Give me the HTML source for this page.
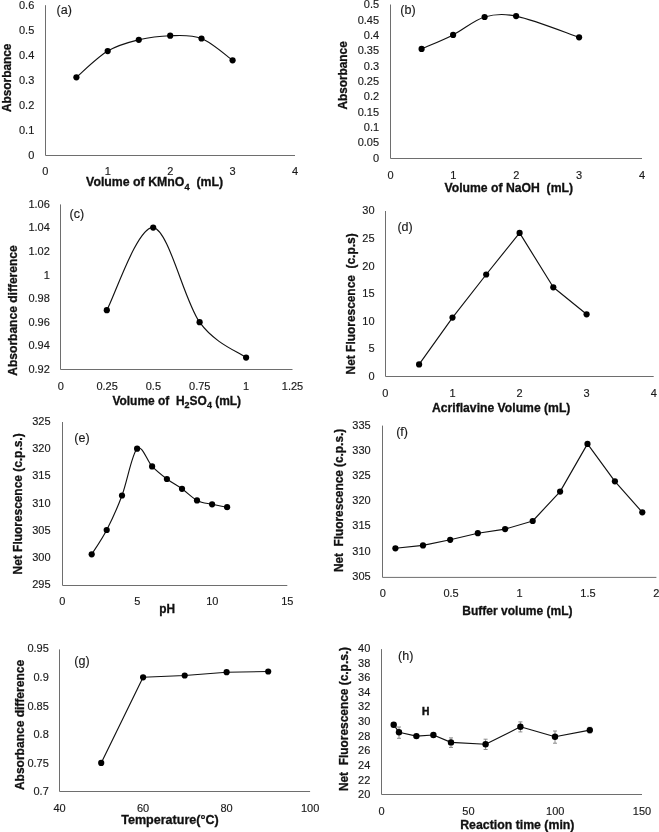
<!DOCTYPE html>
<html><head><meta charset="utf-8"><style>
html,body{margin:0;padding:0;background:#fff;}
svg{display:block;filter:grayscale(1);}
.t{white-space:pre;font-family:"Liberation Sans", sans-serif;font-size:11px;fill:#1a1a1a;stroke:#1a1a1a;stroke-width:0.15px;}
.l{white-space:pre;font-family:"Liberation Sans", sans-serif;font-size:12.5px;fill:#1a1a1a;stroke:#1a1a1a;stroke-width:0.15px;}
.b{white-space:pre;font-family:"Liberation Sans", sans-serif;font-size:12px;font-weight:bold;fill:#111;stroke:#111;stroke-width:0.3px;}
</style></head><body>
<svg width="659" height="832" viewBox="0 0 659 832">
<rect width="659" height="832" fill="#fff"/>
<path d="M45.5,5.2 V155.5 H295.0" fill="none" stroke="#6e6e6e" stroke-width="1"/>
<text x="34.3" y="158.7" text-anchor="end" class="t">0</text>
<text x="34.3" y="133.8" text-anchor="end" class="t">0.1</text>
<text x="34.3" y="108.8" text-anchor="end" class="t">0.2</text>
<text x="34.3" y="83.9" text-anchor="end" class="t">0.3</text>
<text x="34.3" y="59.0" text-anchor="end" class="t">0.4</text>
<text x="34.3" y="34.0" text-anchor="end" class="t">0.5</text>
<text x="34.3" y="9.1" text-anchor="end" class="t">0.6</text>
<text x="45.4" y="174.9" text-anchor="middle" class="t">0</text>
<text x="107.8" y="174.9" text-anchor="middle" class="t">1</text>
<text x="170.2" y="174.9" text-anchor="middle" class="t">2</text>
<text x="232.6" y="174.9" text-anchor="middle" class="t">3</text>
<text x="295.0" y="174.9" text-anchor="middle" class="t">4</text>
<text x="64.2" y="14.1" class="l" text-anchor="middle">(a)</text>
<text x="86.1" y="186.2" class="b" textLength="137.0" lengthAdjust="spacingAndGlyphs">Volume of KMnO<tspan font-size="9" dy="3.5">4</tspan><tspan dy="-3.5">  (mL)</tspan></text>
<text transform="translate(11.0,112.0) rotate(-90)" class="b" textLength="68.4" lengthAdjust="spacingAndGlyphs">Absorbance</text>
<path d="M76.40,77.30 C81.62,72.93 97.30,57.35 107.70,51.10 C118.10,44.85 128.38,42.37 138.80,39.80 C149.22,37.23 159.75,35.92 170.20,35.70 C180.65,35.48 191.10,34.40 201.50,38.50 C211.90,42.60 227.42,56.67 232.60,60.30" fill="none" stroke="#111" stroke-width="1.15" stroke-linejoin="round"/>
<circle cx="76.40" cy="77.30" r="3.10" fill="#000"/>
<circle cx="107.70" cy="51.10" r="3.10" fill="#000"/>
<circle cx="138.80" cy="39.80" r="3.10" fill="#000"/>
<circle cx="170.20" cy="35.70" r="3.10" fill="#000"/>
<circle cx="201.50" cy="38.50" r="3.10" fill="#000"/>
<circle cx="232.60" cy="60.30" r="3.10" fill="#000"/>
<path d="M390.5,4.5 V158.5 H642.0" fill="none" stroke="#6e6e6e" stroke-width="1"/>
<text x="379.1" y="161.5" text-anchor="end" class="t">0</text>
<text x="379.1" y="146.2" text-anchor="end" class="t">0.05</text>
<text x="379.1" y="130.9" text-anchor="end" class="t">0.1</text>
<text x="379.1" y="115.6" text-anchor="end" class="t">0.15</text>
<text x="379.1" y="100.3" text-anchor="end" class="t">0.2</text>
<text x="379.1" y="85.0" text-anchor="end" class="t">0.25</text>
<text x="379.1" y="69.6" text-anchor="end" class="t">0.3</text>
<text x="379.1" y="54.3" text-anchor="end" class="t">0.35</text>
<text x="379.1" y="39.0" text-anchor="end" class="t">0.4</text>
<text x="379.1" y="23.7" text-anchor="end" class="t">0.45</text>
<text x="379.1" y="8.4" text-anchor="end" class="t">0.5</text>
<text x="390.5" y="178.6" text-anchor="middle" class="t">0</text>
<text x="453.4" y="178.6" text-anchor="middle" class="t">1</text>
<text x="516.2" y="178.6" text-anchor="middle" class="t">2</text>
<text x="579.1" y="178.6" text-anchor="middle" class="t">3</text>
<text x="642.0" y="178.6" text-anchor="middle" class="t">4</text>
<text x="408.0" y="14.1" class="l" text-anchor="middle">(b)</text>
<text x="444.5" y="191.9" class="b" textLength="128.5" lengthAdjust="spacingAndGlyphs">Volume of NaOH  (mL)</text>
<text transform="translate(347.1,109.5) rotate(-90)" class="b" textLength="68.2" lengthAdjust="spacingAndGlyphs">Absorbance</text>
<path d="M421.60,48.90 C426.85,46.57 442.73,40.15 453.10,34.90 C463.73,29.52 473.74,20.24 484.60,17.00 C494.73,13.98 503.47,13.39 516.10,16.10 C534.45,20.04 568.60,33.77 579.10,37.30" fill="none" stroke="#111" stroke-width="1.15" stroke-linejoin="round"/>
<circle cx="421.60" cy="48.90" r="3.10" fill="#000"/>
<circle cx="453.10" cy="34.90" r="3.10" fill="#000"/>
<circle cx="484.60" cy="17.00" r="3.10" fill="#000"/>
<circle cx="516.10" cy="16.10" r="3.10" fill="#000"/>
<circle cx="579.10" cy="37.30" r="3.10" fill="#000"/>
<path d="M60.5,204.4 V369.5 H292.5" fill="none" stroke="#6e6e6e" stroke-width="1"/>
<text x="49.8" y="373.0" text-anchor="end" class="t">0.92</text>
<text x="49.8" y="349.4" text-anchor="end" class="t">0.94</text>
<text x="49.8" y="325.8" text-anchor="end" class="t">0.96</text>
<text x="49.8" y="302.2" text-anchor="end" class="t">0.98</text>
<text x="49.8" y="278.6" text-anchor="end" class="t">1</text>
<text x="49.8" y="255.0" text-anchor="end" class="t">1.02</text>
<text x="49.8" y="231.4" text-anchor="end" class="t">1.04</text>
<text x="49.8" y="207.8" text-anchor="end" class="t">1.06</text>
<text x="60.7" y="389.5" text-anchor="middle" class="t">0</text>
<text x="107.1" y="389.5" text-anchor="middle" class="t">0.25</text>
<text x="153.4" y="389.5" text-anchor="middle" class="t">0.5</text>
<text x="199.8" y="389.5" text-anchor="middle" class="t">0.75</text>
<text x="246.1" y="389.5" text-anchor="middle" class="t">1</text>
<text x="292.5" y="389.5" text-anchor="middle" class="t">1.25</text>
<text x="76.8" y="218.0" class="l" text-anchor="middle">(c)</text>
<text x="112.4" y="405.0" class="b" textLength="128.7" lengthAdjust="spacingAndGlyphs">Volume of  H<tspan font-size="9" dy="3">2</tspan><tspan dy="-3">SO</tspan><tspan font-size="9" dy="3">4</tspan><tspan dy="-3"> (mL)</tspan></text>
<text transform="translate(16.9,375.7) rotate(-90)" class="b" textLength="130.4" lengthAdjust="spacingAndGlyphs">Absorbance difference</text>
<path d="M106.80,310.20 C114.53,296.43 137.73,225.60 153.20,227.60 C168.67,229.60 184.12,300.53 199.60,322.20 C215.08,343.87 238.35,351.70 246.10,357.60" fill="none" stroke="#111" stroke-width="1.15" stroke-linejoin="round"/>
<circle cx="106.80" cy="310.20" r="3.10" fill="#000"/>
<circle cx="153.20" cy="227.60" r="3.10" fill="#000"/>
<circle cx="199.60" cy="322.20" r="3.10" fill="#000"/>
<circle cx="246.10" cy="357.60" r="3.10" fill="#000"/>
<path d="M385.5,211.0 V376.5 H653.7" fill="none" stroke="#6e6e6e" stroke-width="1"/>
<text x="374.6" y="380.1" text-anchor="end" class="t">0</text>
<text x="374.6" y="352.4" text-anchor="end" class="t">5</text>
<text x="374.6" y="324.8" text-anchor="end" class="t">10</text>
<text x="374.6" y="297.1" text-anchor="end" class="t">15</text>
<text x="374.6" y="269.5" text-anchor="end" class="t">20</text>
<text x="374.6" y="241.9" text-anchor="end" class="t">25</text>
<text x="374.6" y="214.2" text-anchor="end" class="t">30</text>
<text x="385.4" y="396.7" text-anchor="middle" class="t">0</text>
<text x="452.5" y="396.7" text-anchor="middle" class="t">1</text>
<text x="519.5" y="396.7" text-anchor="middle" class="t">2</text>
<text x="586.6" y="396.7" text-anchor="middle" class="t">3</text>
<text x="653.7" y="396.7" text-anchor="middle" class="t">4</text>
<text x="405.1" y="231.1" class="l" text-anchor="middle">(d)</text>
<text x="432.0" y="412.0" class="b" textLength="138.4" lengthAdjust="spacingAndGlyphs">Acriflavine Volume (mL)</text>
<text transform="translate(354.7,374.4) rotate(-90)" class="b" textLength="141.0" lengthAdjust="spacingAndGlyphs">Net Fluorescence  (c.p.s)</text>
<path d="M419.10,364.40 L452.50,317.60 L486.20,274.50 L519.60,232.90 L553.30,287.30 L586.60,314.30" fill="none" stroke="#111" stroke-width="1.15" stroke-linejoin="round"/>
<circle cx="419.10" cy="364.40" r="3.10" fill="#000"/>
<circle cx="452.50" cy="317.60" r="3.10" fill="#000"/>
<circle cx="486.20" cy="274.50" r="3.10" fill="#000"/>
<circle cx="519.60" cy="232.90" r="3.10" fill="#000"/>
<circle cx="553.30" cy="287.30" r="3.10" fill="#000"/>
<circle cx="586.60" cy="314.30" r="3.10" fill="#000"/>
<path d="M62.5,422.0 V585.5 H287.3" fill="none" stroke="#6e6e6e" stroke-width="1"/>
<text x="50.6" y="588.4" text-anchor="end" class="t">295</text>
<text x="50.6" y="561.1" text-anchor="end" class="t">300</text>
<text x="50.6" y="533.9" text-anchor="end" class="t">305</text>
<text x="50.6" y="506.6" text-anchor="end" class="t">310</text>
<text x="50.6" y="479.4" text-anchor="end" class="t">315</text>
<text x="50.6" y="452.1" text-anchor="end" class="t">320</text>
<text x="50.6" y="424.9" text-anchor="end" class="t">325</text>
<text x="62.2" y="605.1" text-anchor="middle" class="t">0</text>
<text x="137.2" y="605.1" text-anchor="middle" class="t">5</text>
<text x="212.3" y="605.1" text-anchor="middle" class="t">10</text>
<text x="287.3" y="605.1" text-anchor="middle" class="t">15</text>
<text x="82.0" y="442.1" class="l" text-anchor="middle">(e)</text>
<text x="159.2" y="612.5" class="b" textLength="15.8" lengthAdjust="spacingAndGlyphs">pH</text>
<text transform="translate(21.9,574.4) rotate(-90)" class="b" textLength="141.0" lengthAdjust="spacingAndGlyphs">Net Fluorescence (c.p.s.)</text>
<path d="M91.70,554.30 C94.20,550.25 101.65,539.80 106.70,530.00 C111.75,520.20 116.93,509.05 122.00,495.50 C127.07,481.95 132.08,453.55 137.10,448.70 C142.12,443.85 147.13,461.35 152.10,466.40 C157.07,471.45 161.92,475.27 166.90,479.00 C171.88,482.73 176.98,485.23 182.00,488.80 C187.02,492.37 191.98,497.82 197.00,500.40 C202.02,502.98 207.08,503.17 212.10,504.30 C217.12,505.43 224.60,506.72 227.10,507.20" fill="none" stroke="#111" stroke-width="1.15" stroke-linejoin="round"/>
<circle cx="91.70" cy="554.30" r="3.10" fill="#000"/>
<circle cx="106.70" cy="530.00" r="3.10" fill="#000"/>
<circle cx="122.00" cy="495.50" r="3.10" fill="#000"/>
<circle cx="137.10" cy="448.70" r="3.10" fill="#000"/>
<circle cx="152.10" cy="466.40" r="3.10" fill="#000"/>
<circle cx="166.90" cy="479.00" r="3.10" fill="#000"/>
<circle cx="182.00" cy="488.80" r="3.10" fill="#000"/>
<circle cx="197.00" cy="500.40" r="3.10" fill="#000"/>
<circle cx="212.10" cy="504.30" r="3.10" fill="#000"/>
<circle cx="227.10" cy="507.20" r="3.10" fill="#000"/>
<path d="M382.5,425.6 V577.4 H656.4" fill="none" stroke="#6e6e6e" stroke-width="1"/>
<text x="370.7" y="579.8" text-anchor="end" class="t">305</text>
<text x="370.7" y="554.6" text-anchor="end" class="t">310</text>
<text x="370.7" y="529.4" text-anchor="end" class="t">315</text>
<text x="370.7" y="504.1" text-anchor="end" class="t">320</text>
<text x="370.7" y="478.9" text-anchor="end" class="t">325</text>
<text x="370.7" y="453.7" text-anchor="end" class="t">330</text>
<text x="370.7" y="428.5" text-anchor="end" class="t">335</text>
<text x="382.7" y="597.4" text-anchor="middle" class="t">0</text>
<text x="451.1" y="597.4" text-anchor="middle" class="t">0.5</text>
<text x="519.5" y="597.4" text-anchor="middle" class="t">1</text>
<text x="588.0" y="597.4" text-anchor="middle" class="t">1.5</text>
<text x="656.4" y="597.4" text-anchor="middle" class="t">2</text>
<text x="402.1" y="436.0" class="l" text-anchor="middle">(f)</text>
<text x="462.3" y="614.9" class="b" textLength="110.2" lengthAdjust="spacingAndGlyphs">Buffer volume (mL)</text>
<text transform="translate(342.9,572.1) rotate(-90)" class="b" textLength="143.3" lengthAdjust="spacingAndGlyphs">Net  Fluorescence (c.p.s.)</text>
<path d="M395.40,548.30 L423.00,545.40 L450.20,539.80 L477.80,533.20 L505.10,529.10 L532.70,521.00 L560.10,491.60 L587.50,443.90 L614.90,481.30 L642.30,512.30" fill="none" stroke="#111" stroke-width="1.15" stroke-linejoin="round"/>
<circle cx="395.40" cy="548.30" r="3.10" fill="#000"/>
<circle cx="423.00" cy="545.40" r="3.10" fill="#000"/>
<circle cx="450.20" cy="539.80" r="3.10" fill="#000"/>
<circle cx="477.80" cy="533.20" r="3.10" fill="#000"/>
<circle cx="505.10" cy="529.10" r="3.10" fill="#000"/>
<circle cx="532.70" cy="521.00" r="3.10" fill="#000"/>
<circle cx="560.10" cy="491.60" r="3.10" fill="#000"/>
<circle cx="587.50" cy="443.90" r="3.10" fill="#000"/>
<circle cx="614.90" cy="481.30" r="3.10" fill="#000"/>
<circle cx="642.30" cy="512.30" r="3.10" fill="#000"/>
<path d="M59.5,649.4 V791.5 H310.1" fill="none" stroke="#6e6e6e" stroke-width="1"/>
<text x="48.8" y="795.4" text-anchor="end" class="t">0.7</text>
<text x="48.8" y="766.8" text-anchor="end" class="t">0.75</text>
<text x="48.8" y="738.2" text-anchor="end" class="t">0.8</text>
<text x="48.8" y="709.5" text-anchor="end" class="t">0.85</text>
<text x="48.8" y="680.9" text-anchor="end" class="t">0.9</text>
<text x="48.8" y="652.3" text-anchor="end" class="t">0.95</text>
<text x="59.5" y="811.7" text-anchor="middle" class="t">40</text>
<text x="143.0" y="811.7" text-anchor="middle" class="t">60</text>
<text x="226.6" y="811.7" text-anchor="middle" class="t">80</text>
<text x="310.1" y="811.7" text-anchor="middle" class="t">100</text>
<text x="82.0" y="665.1" class="l" text-anchor="middle">(g)</text>
<text x="121.2" y="824.4" class="b" textLength="97.6" lengthAdjust="spacingAndGlyphs">Temperature(°C)</text>
<text transform="translate(23.5,790.1) rotate(-90)" class="b" textLength="130.2" lengthAdjust="spacingAndGlyphs">Absorbance difference</text>
<path d="M101.20,762.90 L143.10,677.30 L184.70,675.50 L226.60,672.20 L268.20,671.50" fill="none" stroke="#111" stroke-width="1.15" stroke-linejoin="round"/>
<circle cx="101.20" cy="762.90" r="3.10" fill="#000"/>
<circle cx="143.10" cy="677.30" r="3.10" fill="#000"/>
<circle cx="184.70" cy="675.50" r="3.10" fill="#000"/>
<circle cx="226.60" cy="672.20" r="3.10" fill="#000"/>
<circle cx="268.20" cy="671.50" r="3.10" fill="#000"/>
<path d="M381.5,649.1 V794.5 H642.0" fill="none" stroke="#6e6e6e" stroke-width="1"/>
<text x="370.3" y="798.1" text-anchor="end" class="t">20</text>
<text x="370.3" y="783.5" text-anchor="end" class="t">22</text>
<text x="370.3" y="768.9" text-anchor="end" class="t">24</text>
<text x="370.3" y="754.3" text-anchor="end" class="t">26</text>
<text x="370.3" y="739.7" text-anchor="end" class="t">28</text>
<text x="370.3" y="725.1" text-anchor="end" class="t">30</text>
<text x="370.3" y="710.4" text-anchor="end" class="t">32</text>
<text x="370.3" y="695.8" text-anchor="end" class="t">34</text>
<text x="370.3" y="681.2" text-anchor="end" class="t">36</text>
<text x="370.3" y="666.6" text-anchor="end" class="t">38</text>
<text x="370.3" y="652.0" text-anchor="end" class="t">40</text>
<text x="381.6" y="814.8" text-anchor="middle" class="t">0</text>
<text x="468.4" y="814.8" text-anchor="middle" class="t">50</text>
<text x="555.2" y="814.8" text-anchor="middle" class="t">100</text>
<text x="642.0" y="814.8" text-anchor="middle" class="t">150</text>
<text x="405.7" y="659.9" class="l" text-anchor="middle">(h)</text>
<text x="460.2" y="829.0" class="b" textLength="114.3" lengthAdjust="spacingAndGlyphs">Reaction time (min)</text>
<text transform="translate(348.4,791.1) rotate(-90)" class="b" textLength="144.2" lengthAdjust="spacingAndGlyphs">Net  Fluorescence (c.p.s.)</text>
<path d="M393.70,724.70 L399.00,732.30 L416.40,736.10 L433.40,735.00 L451.00,742.40 L485.60,744.30 L520.40,726.80 L555.00,736.80 L589.80,730.10" fill="none" stroke="#111" stroke-width="1.15" stroke-linejoin="round"/>
<path d="M399.0,727.0 V738.3 M397.0,727.0 H401.0 M397.0,738.3 H401.0" stroke="#8a8a8a" stroke-width="1" fill="none"/>
<path d="M451.0,737.9 V747.4 M449.0,737.9 H453.0 M449.0,747.4 H453.0" stroke="#8a8a8a" stroke-width="1" fill="none"/>
<path d="M485.6,739.2 V749.5 M483.6,739.2 H487.6 M483.6,749.5 H487.6" stroke="#8a8a8a" stroke-width="1" fill="none"/>
<path d="M520.4,721.9 V731.9 M518.4,721.9 H522.4 M518.4,731.9 H522.4" stroke="#8a8a8a" stroke-width="1" fill="none"/>
<path d="M555.0,731.0 V743.2 M553.0,731.0 H557.0 M553.0,743.2 H557.0" stroke="#8a8a8a" stroke-width="1" fill="none"/>
<path d="M589.8,727.3 V733.0 M587.8,727.3 H591.8 M587.8,733.0 H591.8" stroke="#8a8a8a" stroke-width="1" fill="none"/>
<path d="M393.7,722.5 V727.0 M391.7,722.5 H395.7 M391.7,727.0 H395.7" stroke="#8a8a8a" stroke-width="1" fill="none"/>
<circle cx="393.70" cy="724.70" r="3.20" fill="#000"/>
<circle cx="399.00" cy="732.30" r="3.20" fill="#000"/>
<circle cx="416.40" cy="736.10" r="3.20" fill="#000"/>
<circle cx="433.40" cy="735.00" r="3.20" fill="#000"/>
<circle cx="451.00" cy="742.40" r="3.20" fill="#000"/>
<circle cx="485.60" cy="744.30" r="3.20" fill="#000"/>
<circle cx="520.40" cy="726.80" r="3.20" fill="#000"/>
<circle cx="555.00" cy="736.80" r="3.20" fill="#000"/>
<circle cx="589.80" cy="730.10" r="3.20" fill="#000"/>
<text x="421.9" y="715.2" class="b" style="font-size:10.2px;stroke-width:0.5px">H</text>
</svg>
</body></html>
